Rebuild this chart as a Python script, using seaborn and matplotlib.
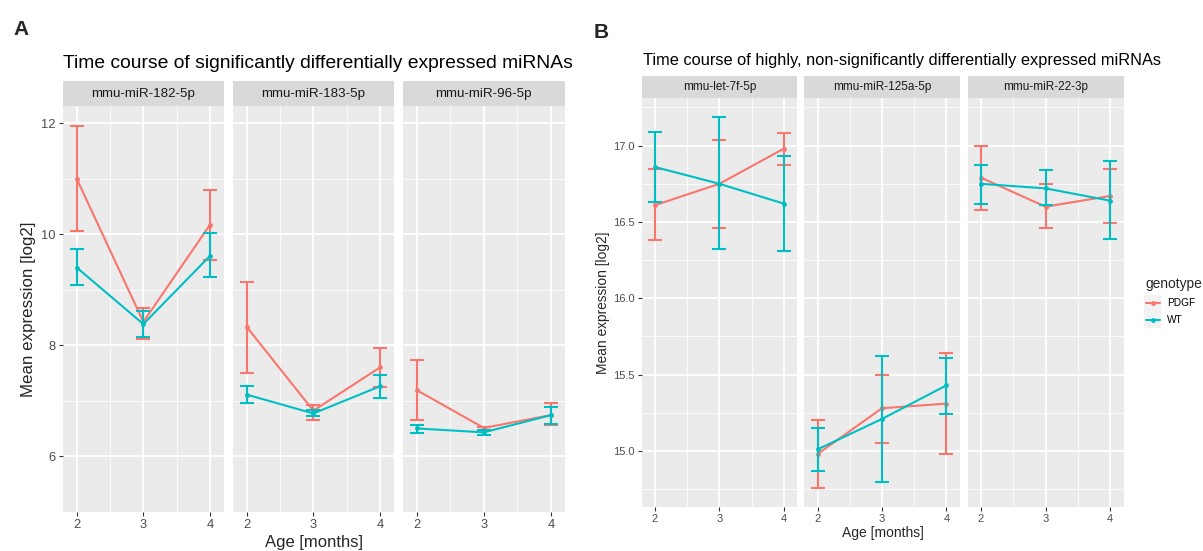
import matplotlib.pyplot as plt
import seaborn as sns
import pandas as pd
from matplotlib.lines import Line2D
from matplotlib.patches import Rectangle
from matplotlib.ticker import FormatStrFormatter

# ---- data ----
ages = [2, 3, 4]
genotypes = ['PDGF', 'WT']
mirs_a = ['mmu-miR-182-5p', 'mmu-miR-183-5p', 'mmu-miR-96-5p']
mirs_b = ['mmu-let-7f-5p', 'mmu-miR-125a-5p', 'mmu-miR-22-3p']

# one row per miRNA (mirs_a + mirs_b), one value per age
pdgf_mean = [[11.00, 8.42, 10.17], [8.33, 6.82, 7.60], [7.19, 6.51, 6.74],
             [16.61, 16.75, 16.98], [14.98, 15.28, 15.31], [16.79, 16.60, 16.67]]
pdgf_lo = [[10.05, 8.12, 9.53], [7.50, 6.65, 7.24], [6.66, 6.47, 6.56],
           [16.38, 16.46, 16.87], [14.76, 15.05, 14.98], [16.58, 16.46, 16.49]]
pdgf_hi = [[11.95, 8.67, 10.80], [9.14, 6.93, 7.95], [7.73, 6.53, 6.95],
           [16.85, 17.04, 17.08], [15.20, 15.50, 15.64], [17.00, 16.75, 16.85]]
wt_mean = [[9.40, 8.38, 9.61], [7.11, 6.77, 7.26], [6.50, 6.43, 6.74],
           [16.86, 16.75, 16.62], [15.01, 15.21, 15.43], [16.75, 16.72, 16.64]]
wt_lo = [[9.08, 8.14, 9.23], [6.96, 6.72, 7.04], [6.42, 6.38, 6.58],
         [16.63, 16.32, 16.31], [14.87, 14.80, 15.24], [16.62, 16.61, 16.39]]
wt_hi = [[9.73, 8.61, 10.03], [7.26, 6.83, 7.46], [6.57, 6.47, 6.89],
         [17.09, 17.19, 16.93], [15.15, 15.62, 15.61], [16.87, 16.84, 16.90]]

colors = {'PDGF': '#F8766D', 'WT': '#00BFC4'}

# long table: lo / mean / hi per point -> median = mean, 100% interval = error bar
rows = []
for i, mir in enumerate(mirs_a + mirs_b):
    for g, (m, lo, hi) in zip(genotypes, [(pdgf_mean, pdgf_lo, pdgf_hi), (wt_mean, wt_lo, wt_hi)]):
        for j, age in enumerate(ages):
            for v in (lo[i][j], m[i][j], hi[i][j]):
                rows.append({'mir': mir, 'genotype': g, 'age': age, 'expr': v})
df = pd.DataFrame(rows)

sns.set_theme(style='darkgrid', rc={'axes.facecolor': '#EBEBEB', 'grid.color': 'white'})
plt.rcParams['font.family'] = ['Liberation Sans', 'DejaVu Sans']

W, H = 1203, 551
fig = plt.figure(figsize=(W / 100, H / 100), dpi=100)
fig.patch.set_facecolor('white')


def rect(x0, x1, y0, y1):
    return [x0 / W, 1 - y1 / H, (x1 - x0) / W, (y1 - y0) / H]


def draw_facet(ax, mir, ylim, yticks, yminor, show_y, fs_tick, fmt):
    sub = df[df['mir'] == mir]
    sns.lineplot(data=sub, x='age', y='expr', hue='genotype', hue_order=genotypes,
                 palette=colors, estimator='median', errorbar=('pi', 100),
                 err_style='bars', err_kws=dict(capsize=4.8, capthick=1.5, elinewidth=1.5),
                 marker='o', markersize=3.5, markeredgewidth=0, linewidth=1.5,
                 legend=False, ax=ax)
    ax.set_facecolor('#EBEBEB')
    ax.set_xlim(1.79, 4.21)
    ax.set_ylim(*ylim)
    ax.set_xticks(ages)
    ax.set_xticks([2.5, 3.5], minor=True)
    ax.set_yticks(yticks)
    ax.set_yticks(yminor, minor=True)
    ax.yaxis.set_major_formatter(FormatStrFormatter(fmt))
    ax.grid(which='major', color='white', lw=1.3)
    ax.grid(which='minor', color='white', lw=0.6)
    ax.set_axisbelow(True)
    for s in ax.spines.values():
        s.set_visible(False)
    ax.tick_params(which='major', length=3, width=0.8, color='#333333',
                   labelcolor='#4D4D4D', labelsize=fs_tick, pad=2,
                   bottom=True, left=True)
    ax.tick_params(which='minor', length=0)
    if not show_y:
        ax.tick_params(axis='y', which='major', left=False, labelleft=False)
    ax.set_xlabel('')
    ax.set_ylabel('')


def strip(x0, x1, y0, y1, label, fs):
    sax = fig.add_axes(rect(x0, x1, y0, y1))
    sax.set_facecolor('#D9D9D9')
    sax.set_xticks([])
    sax.set_yticks([])
    sax.grid(False)
    for s in sax.spines.values():
        s.set_visible(False)
    sax.text(0.5, 0.5, label, ha='center', va='center', fontsize=fs,
             color='#1A1A1A', transform=sax.transAxes)


# ---- panel A ----
xs_a = [(62.7, 224), (232.7, 394), (402.7, 565)]
for k, mir in enumerate(mirs_a):
    x0, x1 = xs_a[k]
    ax = fig.add_axes(rect(x0, x1, 106, 511.7))
    draw_facet(ax, mir, (5.71, 12.31), [6, 8, 10, 12], [5, 7, 9, 11], k == 0, 9.3, '%d')
    strip(x0, x1, 81, 106, mir, 9.6)

fig.text(13 / W, 1 - 35 / H, 'A', fontsize=15, fontweight='bold', va='baseline')
fig.text(63 / W, 1 - 68 / H, 'Time course of significantly differentially expressed miRNAs',
         fontsize=13.85, va='baseline', color='black')
fig.text(28 / W, 1 - 309 / H, 'Mean expression [log2]', rotation=90, fontsize=12.2,
         ha='center', va='center')
fig.text(314 / W, 1 - 543 / H, 'Age [months]', fontsize=12, ha='center', va='center')

# ---- panel B ----
xs_b = [(641.5, 797.3), (804, 960), (967.5, 1123.5)]
for k, mir in enumerate(mirs_b):
    x0, x1 = xs_b[k]
    ax = fig.add_axes(rect(x0, x1, 98.3, 506.7))
    draw_facet(ax, mir, (14.635, 17.31), [15.0, 15.5, 16.0, 16.5, 17.0],
               [14.75, 15.25, 15.75, 16.25, 16.75, 17.25], k == 0, 8, '%.1f')
    strip(x0, x1, 76, 98.3, mir, 8.5)

fig.text(594 / W, 1 - 38 / H, 'B', fontsize=15, fontweight='bold', va='baseline')
fig.text(643 / W, 1 - 65 / H,
         'Time course of highly, non-significantly differentially expressed miRNAs',
         fontsize=11.8, va='baseline', color='black')
fig.text(603 / W, 1 - 302.5 / H, 'Mean expression [log2]', rotation=90, fontsize=9.9,
         ha='center', va='center')
fig.text(882.5 / W, 1 - 533 / H, 'Age [months]', fontsize=10, ha='center', va='center')

# ---- legend ----
fig.text(1145 / W, 1 - 288.3 / H, 'genotype', fontsize=9.9, va='baseline')
for g, yc in zip(genotypes, [303.3, 320]):
    fig.patches.append(Rectangle((1144 / W, 1 - (yc + 8.3) / H), 17 / W, 16.6 / H,
                                 transform=fig.transFigure, facecolor='#F2F2F2',
                                 edgecolor='none'))
    fig.add_artist(Line2D([1145.5 / W, 1152.5 / W, 1159.5 / W], [1 - yc / H] * 3,
                          color=colors[g], lw=1.5, marker='o', markersize=3.5,
                          markeredgewidth=0, markevery=[1], transform=fig.transFigure))
    fig.text(1166.7 / W, 1 - yc / H, g, fontsize=7.3, va='center', color='black')

fig.savefig('out.png', dpi=100, facecolor='white')
